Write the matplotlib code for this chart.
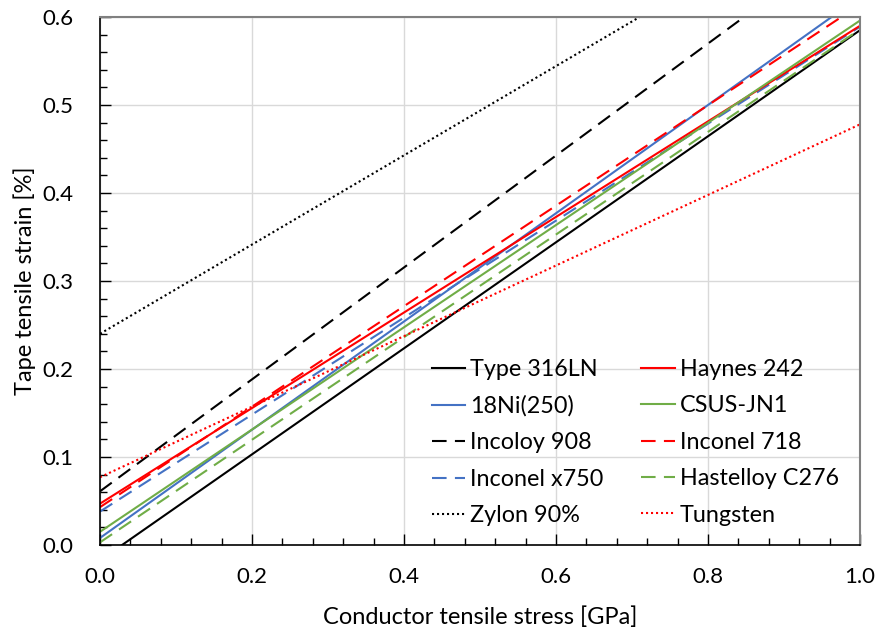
import matplotlib
matplotlib.use("Agg")
import matplotlib.pyplot as plt
from matplotlib.ticker import MultipleLocator

plt.rcParams['font.family'] = ['Lato', 'DejaVu Sans']

stress = [0.0, 1.0]
type316ln = [-0.0175, 0.585]
haynes242 = [0.047, 0.590]
ni18_250 = [0.008, 0.623]
csus_jn1 = [0.015, 0.596]
incoloy908 = [0.061, 0.697]
inconel718 = [0.043, 0.614]
inconelx750 = [0.038, 0.589]
hastelloy = [0.003, 0.586]
zylon = [0.240, 0.747]
tungsten = [0.077, 0.478]

BLUE = '#4472C4'
GREEN = '#70AD47'
RED = '#FF0000'
dash = (0, (7, 4))
dot = (0, (1, 1.4))

W, H = 879, 634
fig = plt.figure(figsize=(W/100, H/100), dpi=100)
ax = fig.add_axes([100/W, (H-545)/H, 760/W, 528/H])

series = [
    ("Type 316LN", type316ln, 'black', '-'),
    ("18Ni(250)", ni18_250, BLUE, '-'),
    ("Incoloy 908", incoloy908, 'black', dash),
    ("Inconel x750", inconelx750, BLUE, dash),
    ("Zylon 90%", zylon, 'black', dot),
    ("Haynes 242", haynes242, RED, '-'),
    ("CSUS-JN1", csus_jn1, GREEN, '-'),
    ("Inconel 718", inconel718, RED, dash),
    ("Hastelloy C276", hastelloy, GREEN, dash),
    ("Tungsten", tungsten, RED, dot),
]
handles = []
for name, vals, col, ls in series:
    h, = ax.plot(stress, vals, color=col, linestyle=ls, lw=1.5, label=name)
    handles.append(h)

ax.set_xlim(0, 1.0)
ax.set_ylim(0, 0.6)
ax.xaxis.set_major_locator(MultipleLocator(0.2))
ax.xaxis.set_minor_locator(MultipleLocator(0.04))
ax.yaxis.set_major_locator(MultipleLocator(0.1))
ax.yaxis.set_minor_locator(MultipleLocator(0.02))
ax.xaxis.set_major_formatter(plt.FuncFormatter(lambda v, p: f"{v:.1f}"))
ax.yaxis.set_major_formatter(plt.FuncFormatter(lambda v, p: f"{v:.1f}"))
ax.grid(True, which='major', color='#D9D9D9', lw=1)
ax.set_axisbelow(True)
ax.tick_params(which='major', direction='in', length=8, width=1, labelsize=16)
ax.tick_params(which='minor', direction='in', length=5, width=1)
ax.tick_params(axis='x', pad=16)
ax.tick_params(axis='y', pad=19)
for s in ['top', 'right']:
    ax.spines[s].set_color('#808080')
    ax.spines[s].set_linewidth(1.5)
for s in ['left', 'bottom']:
    ax.spines[s].set_color('black')
    ax.spines[s].set_linewidth(1.2)

ax.set_xlabel("Conductor tensile stress [GPa]", fontsize=17)
ax.set_ylabel("Tape tensile strain [%]", fontsize=17)
ax.xaxis.set_label_coords(0.5, -(617-545)/528)
ax.xaxis.label.set_va('center')
ax.yaxis.set_label_coords((25-100)/760, 0.5)
ax.yaxis.label.set_va('center')

leg = ax.legend(handles=handles, ncol=2, loc='upper left',
                bbox_to_anchor=(432/W, 1-359/H), bbox_transform=fig.transFigure,
                frameon=False, borderpad=0,
                fontsize=16.8, handlelength=1.42, handletextpad=0.22,
                columnspacing=1.62, labelspacing=0.66, borderaxespad=0)

fig.savefig("out.png", dpi=100)
